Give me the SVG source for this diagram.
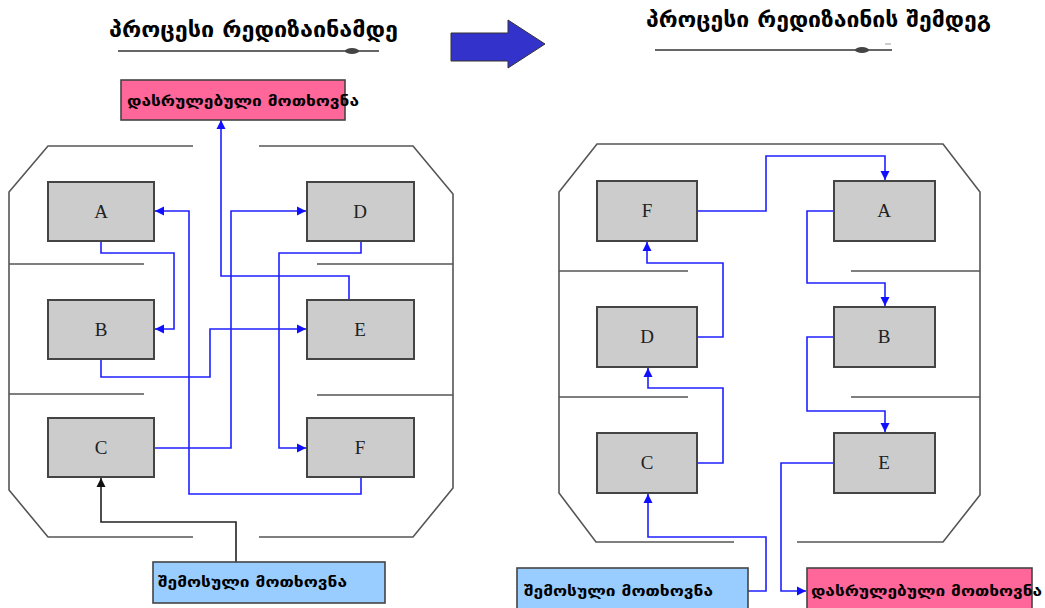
<svg xmlns="http://www.w3.org/2000/svg" width="1045" height="608" viewBox="0 0 1045 608">
  <style>
    .title { font-family: "DejaVu Sans", sans-serif; font-size: 22px; font-weight: bold; fill: #000; }
    .frame { fill: none; stroke: #555; stroke-width: 1.6; }
    .node rect { fill: #cccccc; stroke: #444; stroke-width: 2; }
    .node text { font-family: "Liberation Serif", serif; font-size: 19px; fill: #222; text-anchor: middle; }
    .req { stroke: #444; stroke-width: 1.6; }
    .req-in { fill: #99ccff; }
    .req-out { fill: #ff6699; }
    .req-label { font-family: "DejaVu Sans", sans-serif; font-size: 14px; font-weight: bold; fill: #000; }
    .flow { fill: none; stroke: #2020ff; stroke-width: 1.6; }
    .flow-black { fill: none; stroke: #222; stroke-width: 1.6; }
    .rule { stroke: #666; stroke-width: 2; }
  </style>
  <defs>
    <marker id="arrow-blue" markerUnits="userSpaceOnUse" markerWidth="10" markerHeight="10" viewBox="0 0 10 10" refX="9" refY="5" orient="auto">
      <path d="M0,0.5 L9,5 L0,9.5 Z" fill="#1010ff"/>
    </marker>
    <marker id="arrow-black" markerUnits="userSpaceOnUse" markerWidth="10" markerHeight="10" viewBox="0 0 10 10" refX="9" refY="5" orient="auto">
      <path d="M0,0.5 L9,5 L0,9.5 Z" fill="#111"/>
    </marker>
  </defs>

  <rect width="1045" height="608" fill="#fff"/>

  <!-- headings -->
  <g id="heading-before">
    <text class="title" x="109" y="37" textLength="289" lengthAdjust="spacingAndGlyphs">პროცესი რედიზაინამდე</text>
    <line class="rule" x1="118" y1="51" x2="379" y2="51"/>
    <ellipse cx="352" cy="51" rx="7" ry="3" fill="#444"/>
  </g>
  <g id="heading-after">
    <text class="title" x="646" y="27" textLength="345" lengthAdjust="spacingAndGlyphs">პროცესი რედიზაინის შემდეგ</text>
    <line class="rule" x1="655" y1="50" x2="892" y2="50"/>
    <ellipse cx="862" cy="50" rx="7" ry="3" fill="#444"/>
    <line x1="885" y1="44" x2="891" y2="44" stroke="#999" stroke-width="1"/>
  </g>

  <!-- transition arrow -->
  <g id="transition-arrow">
    <polygon points="451,33 508,33 508,20 545,44 508,68 508,61 451,61" fill="#3333cc" stroke="#333" stroke-width="1"/>
  </g>

  <!-- left layout frame -->
  <g id="frame-before">
    <path class="frame" d="M193,146 H48 L9,192 V490 L48,537 H193"/>
    <path class="frame" d="M259,146 H413 L453,194 V488 L413,537 H259"/>
    <path class="frame" d="M9,264 H144 M9,394 H144 M317,264 H453 M317,395 H453"/>
  </g>

  <!-- right layout frame -->
  <g id="frame-after">
    <path class="frame" d="M734,542 H596 L559,493 V192 L597,144 H943 L980,192 V495 L943,542 H797"/>
    <path class="frame" d="M559,271 H688 M851,271 H980 M559,397 H688 M851,397 H980"/>
  </g>

  <!-- connectors -->
  <g id="connectors">
    <!-- before redesign -->
    <path class="flow" d="M349,300 V276 H221 V120" marker-end="url(#arrow-blue)"/>
    <path class="flow" d="M101,241 V253 H174 V329 H155" marker-end="url(#arrow-blue)"/>
    <path class="flow" d="M361,477 V494 H189 V211 H155" marker-end="url(#arrow-blue)"/>
    <path class="flow" d="M154,448 H231 V211 H306" marker-end="url(#arrow-blue)"/>
    <path class="flow" d="M101,359 V377 H210 V329 H306" marker-end="url(#arrow-blue)"/>
    <path class="flow" d="M361,241 V253 H279 V448 H306" marker-end="url(#arrow-blue)"/>
    <path class="flow-black" d="M236,562 V522 H101 V478" marker-end="url(#arrow-black)"/>
    <!-- after redesign -->
    <path class="flow" d="M697,211 H766 V156 H885 V180" marker-end="url(#arrow-blue)"/>
    <path class="flow" d="M834,211 H807 V283 H885 V306" marker-end="url(#arrow-blue)"/>
    <path class="flow" d="M834,337 H807 V411 H885 V432" marker-end="url(#arrow-blue)"/>
    <path class="flow" d="M834,463 H781 V591 H806" marker-end="url(#arrow-blue)"/>
    <path class="flow" d="M740,591 H766 V537 H648 V494" marker-end="url(#arrow-blue)"/>
    <path class="flow" d="M697,463 H723 V388 H648 V368" marker-end="url(#arrow-blue)"/>
    <path class="flow" d="M697,337 H723 V263 H647 V242" marker-end="url(#arrow-blue)"/>
  </g>

  <!-- request boxes -->
  <g id="done-before">
    <rect class="req req-out" x="121" y="80" width="224" height="40"/>
    <text class="req-label" x="127" y="106" textLength="232" lengthAdjust="spacingAndGlyphs">დასრულებული მოთხოვნა</text>
  </g>
  <g id="incoming-before">
    <rect class="req req-in" x="153" y="562" width="232" height="41"/>
    <text class="req-label" x="158" y="587" textLength="189" lengthAdjust="spacingAndGlyphs">შემოსული მოთხოვნა</text>
  </g>
  <g id="incoming-after">
    <rect class="req req-in" x="517" y="568" width="231" height="46"/>
    <text class="req-label" x="524" y="596" textLength="189" lengthAdjust="spacingAndGlyphs">შემოსული მოთხოვნა</text>
  </g>
  <g id="done-after">
    <rect class="req req-out" x="807" y="568" width="225" height="46"/>
    <text class="req-label" x="811" y="596" textLength="231" lengthAdjust="spacingAndGlyphs">დასრულებული მოთხოვნა</text>
  </g>

  <!-- nodes, before redesign -->
  <g id="before-A" class="node"><rect x="48" y="182" width="106" height="59"/><text x="101" y="218">A</text></g>
  <g id="before-B" class="node"><rect x="48" y="300" width="106" height="59"/><text x="101" y="336">B</text></g>
  <g id="before-C" class="node"><rect x="48" y="418" width="106" height="59"/><text x="101" y="454">C</text></g>
  <g id="before-D" class="node"><rect x="307" y="182" width="107" height="59"/><text x="360" y="218">D</text></g>
  <g id="before-E" class="node"><rect x="307" y="300" width="107" height="59"/><text x="360" y="336">E</text></g>
  <g id="before-F" class="node"><rect x="307" y="418" width="107" height="59"/><text x="360" y="454">F</text></g>

  <!-- nodes, after redesign -->
  <g id="after-F" class="node"><rect x="597" y="181" width="100" height="60"/><text x="647" y="217">F</text></g>
  <g id="after-D" class="node"><rect x="597" y="307" width="100" height="60"/><text x="647" y="343">D</text></g>
  <g id="after-C" class="node"><rect x="597" y="433" width="100" height="60"/><text x="647" y="469">C</text></g>
  <g id="after-A" class="node"><rect x="834" y="181" width="101" height="60"/><text x="884" y="217">A</text></g>
  <g id="after-B" class="node"><rect x="834" y="307" width="101" height="60"/><text x="884" y="343">B</text></g>
  <g id="after-E" class="node"><rect x="834" y="433" width="101" height="60"/><text x="884" y="469">E</text></g>
</svg>
